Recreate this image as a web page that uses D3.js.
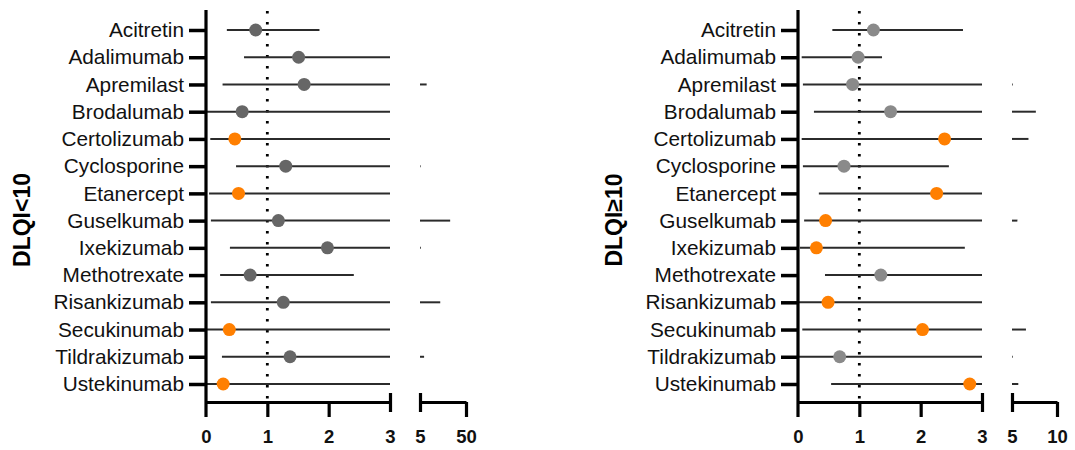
<!DOCTYPE html>
<html>
<head>
<meta charset="utf-8">
<script src="https://cdn.jsdelivr.net/npm/d3@7"></script>
<style>
  body { margin: 0; background: #fff; }
  svg { font-family: "Liberation Sans", Arial, sans-serif; }
</style>
</head>
<body>
<svg id="chart" width="1075" height="450"></svg>
<script>
// --------------------------------------------------------------------------------------
// data (odds ratio with 95% CI)
// --------------------------------------------------------------------------------------
var drugs = ["Acitretin", "Adalimumab", "Apremilast", "Brodalumab", "Certolizumab", "Cyclosporine",
             "Etanercept", "Guselkumab", "Ixekizumab", "Methotrexate", "Risankizumab", "Secukinumab",
             "Tildrakizumab", "Ustekinumab"];

// DLQI<10
var est_low = [0.81, 1.51, 1.60, 0.59, 0.47, 1.30, 0.53, 1.18, 1.98, 0.72, 1.26, 0.38, 1.37, 0.28];
var lo_low  = [0.34, 0.62, 0.27, 0.01, 0.07, 0.49, 0.05, 0.08, 0.39, 0.23, 0.08, 0.00, 0.26, 0.00];
var hi_low  = [1.85, 4.0, 11.5, 4.0, 4.0, 5.6, 4.0, 34.5, 5.8, 2.41, 24.8, 4.0, 9.0, 4.0];
var orange_low = ["Certolizumab", "Etanercept", "Secukinumab", "Ustekinumab"];
var ticks_low = [0, 1, 2, 3, 5, 50];

// DLQI>=10
var est_high = [1.23, 0.98, 0.89, 1.51, 2.39, 0.75, 2.26, 0.45, 0.30, 1.35, 0.49, 2.03, 0.68, 2.80];
var lo_high  = [0.56, 0.06, 0.08, 0.26, 0.06, 0.08, 0.34, 0.10, 0.03, 0.44, 0.00, 0.07, 0.00, 0.54];
var hi_high  = [2.69, 1.37, 5.08, 7.65, 6.83, 2.46, 4.0, 5.6, 2.72, 4.0, 4.0, 6.55, 5.08, 5.7];
var orange_high = ["Certolizumab", "Etanercept", "Guselkumab", "Ixekizumab", "Risankizumab",
                   "Secukinumab", "Ustekinumab"];
var ticks_high = [0, 1, 2, 3, 5, 10];

var svg = d3.select("#chart");

draw_panel({ title: "DLQI<10", x0: 206, est: est_low, lo: lo_low, hi: hi_low,
             orange: orange_low, ticks: ticks_low, gray: "#666666", seg2_w: 46 });
draw_panel({ title: "DLQI\u226510", x0: 798, est: est_high, lo: lo_high, hi: hi_high,
             orange: orange_high, ticks: ticks_high, gray: "#8a8a8a", seg2_w: 45 });

// --------------------------------------------------------------------------------------
function draw_panel(o)
{
  var top = 10, bottom = 402;
  var brk_lo = 3, brk_hi = 5;
  var max_v = o.ticks[o.ticks.length - 1];

  var g = svg.append("g").attr("transform", "translate(" + o.x0 + ",0)");

  // broken x axis: two linear segments
  var x1 = d3.scaleLinear().domain([0, brk_lo]).range([0, 184]);
  var x2 = d3.scaleLinear().domain([brk_hi, max_v]).range([214, 214 + o.seg2_w]);
  var y = d3.scalePoint().domain(drugs).range([30, 384]);

  var rows = drugs.map(function(d, i) {
    return { name: d, est: o.est[i], lo: o.lo[i], hi: o.hi[i] };
  });

  // reference line at 1
  g.append("line")
   .attr("x1", x1(1)).attr("x2", x1(1))
   .attr("y1", top + 1).attr("y2", bottom)
   .attr("stroke", "#000")
   .attr("stroke-width", 2.8)
   .attr("stroke-dasharray", "2.6,8.4");

  // CI lines, first segment
  g.selectAll(".ci1").data(rows).enter().append("line")
   .attr("class", "ci1")
   .attr("x1", function(d) { return x1(Math.max(d.lo, 0)); })
   .attr("x2", function(d) { return x1(Math.min(d.hi, brk_lo)); })
   .attr("y1", function(d) { return y(d.name); })
   .attr("y2", function(d) { return y(d.name); })
   .attr("stroke", "#2b2b2b")
   .attr("stroke-width", 2);

  // CI lines, second segment
  g.selectAll(".ci2").data(rows.filter(function(d) { return d.hi > brk_hi; })).enter().append("line")
   .attr("class", "ci2")
   .attr("x1", function(d) { return x2(Math.max(d.lo, brk_hi)); })
   .attr("x2", function(d) { return x2(Math.min(d.hi, max_v)); })
   .attr("y1", function(d) { return y(d.name); })
   .attr("y2", function(d) { return y(d.name); })
   .attr("stroke", "#2b2b2b")
   .attr("stroke-width", 2);

  // point estimates
  g.selectAll(".pt").data(rows).enter().append("circle")
   .attr("class", "pt")
   .attr("cx", function(d) { return x1(d.est); })
   .attr("cy", function(d) { return y(d.name); })
   .attr("r", 6.5)
   .attr("fill", function(d) { return o.orange.indexOf(d.name) >= 0 ? "#ff7f00" : o.gray; });

  // y axis
  var y_axis = g.append("g")
                .call(d3.axisLeft(y).tickSize(17).tickPadding(5).tickSizeOuter(0));
  y_axis.select(".domain").remove();
  y_axis.selectAll(".tick line").attr("stroke", "#000").attr("stroke-width", 3.5);
  y_axis.selectAll("text")
        .attr("fill", "#111")
        .style("font-size", "20.8px");

  g.append("line")
   .attr("x1", 0).attr("x2", 0)
   .attr("y1", top).attr("y2", bottom + 15)
   .attr("stroke", "#000").attr("stroke-width", 3.2);

  // x axis segments
  var seg_ticks1 = o.ticks.filter(function(t) { return t <= brk_lo; });
  var seg_ticks2 = o.ticks.filter(function(t) { return t >= brk_hi; });

  var xa1 = g.append("g")
             .attr("transform", "translate(0," + bottom + ")")
             .call(d3.axisBottom(x1).tickValues(seg_ticks1).tickFormat(d3.format("d"))
                   .tickSize(15).tickSizeOuter(0).tickPadding(13));
  var xa2 = g.append("g")
             .attr("transform", "translate(0," + bottom + ")")
             .call(d3.axisBottom(x2).tickValues(seg_ticks2).tickFormat(d3.format("d"))
                   .tickSize(15).tickSizeOuter(0).tickPadding(13));

  [xa1, xa2].forEach(function(a) {
    a.select(".domain").attr("stroke", "#000").attr("stroke-width", 3.2);
    a.selectAll(".tick line").attr("stroke", "#000").attr("stroke-width", 3.2);
    a.selectAll("text")
     .attr("fill", "#111")
     .style("font-size", "18.5px")
     .style("font-weight", "bold");
  });

  // break markers at the ends of the gap
  [xa1, xa2].forEach(function(a) {
    a.selectAll(".tick line")
     .filter(function(t) { return t == brk_lo || t == brk_hi; })
     .attr("y1", -9).attr("y2", 10);
  });
  // 0 tick hidden under the y axis line
  xa1.selectAll(".tick line").filter(function(t) { return t == 0; }).remove();

  // y axis title
  svg.append("text")
     .attr("transform", "translate(" + (o.x0 - 176) + ",220) rotate(-90)")
     .attr("text-anchor", "middle")
     .style("font-size", "23px")
     .style("font-weight", "bold")
     .attr("fill", "#000")
     .text(o.title);
}
// --------------------------------------------------------------------------------------
</script>
</body>
</html>
